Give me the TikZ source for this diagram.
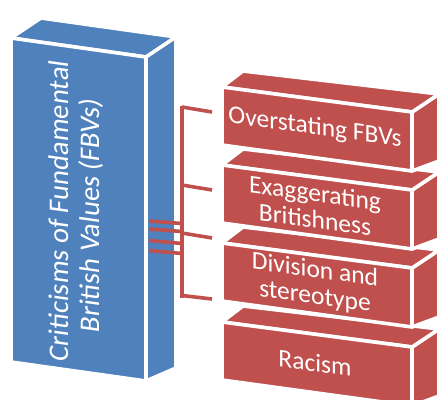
\documentclass[tikz,border=0pt]{standalone}
\usepackage{fontspec}
\setmainfont{Carlito}
\definecolor{fbvblue}{HTML}{4F81BD}
\definecolor{fbvred}{HTML}{C0504D}
\tikzset{
  face/.style={draw=white, line width=3.6pt, line join=round},
  blueface/.style={face, fill=fbvblue},
  redface/.style={face, fill=fbvred},
  link/.style={draw=fbvred, line width=3.6pt},
  boxtext/.style={text=white, align=center, inner sep=0pt,
    font=\fontsize{25.5}{26.5}\selectfont},
  roottext/.style={text=white, align=center, inner sep=0pt,
    font=\fontsize{28.5}{30.5}\selectfont}
}
% one red box: #1 name, #2 y of the front top-left corner, #3 label
\newcommand\critbox[3]{%
  \coordinate (#1ftl) at (222,#2);
  \coordinate (#1ftr) at (412,#2+25);
  \coordinate (#1fbr) at (412,#2+84);
  \coordinate (#1fbl) at (222,#2+58);
  \fill[redface] (#1ftr) -- (439,#2+7) -- (439,#2+74) -- (#1fbr) -- cycle;
  \fill[redface] (#1ftl) -- (#1ftr) -- (439,#2+7) -- (243,#2-16) -- cycle;
  \fill[redface] (#1ftl) -- (#1ftr) -- (#1fbr) -- (#1fbl) -- cycle;
  \node[boxtext, yslant=-0.137] (#1) at (315,#2+41) {#3};
}
\begin{document}
\begin{tikzpicture}[x=1pt,y=-1pt]
\useasboundingbox (0,0) rectangle (439,399);
\clip (0,0) rectangle (439,399);

% parent block
\coordinate (rftl) at (11,38);
\coordinate (rftr) at (146,57);
\coordinate (rfbr) at (146,381);
\coordinate (rfbl) at (11,362);
\fill[blueface] (rftl) -- (rftr) -- (176,37) -- (41,18) -- cycle;
\fill[blueface] (rftr) -- (176,37) -- (176,368) -- (rfbr) -- cycle;
\fill[blueface] (rftl) -- (rftr) -- (rfbr) -- (rfbl) -- cycle;
\node[roottext, yslant=-0.14, rotate=90] (root) at (76,213)
  {Criticisms of Fundamental\\British Values (FBVs)};

% connector tree
\coordinate (trunktop) at (182,105.5);
\coordinate (trunkbot) at (182,297.5);
\foreach \i/\ya/\yb in {1/221/223.5, 2/229/231.5, 3/240.5/243.5, 4/250.5/253.5}{
  \coordinate (src\i) at (149,\ya);
  \coordinate (jn\i) at (182,\yb);
}
\foreach \i/\ya/\yb in {1/107/112, 2/185/190, 3/233/238, 4/295.5/299}{
  \coordinate (br\i) at (182,\ya);
  \coordinate (tip\i) at (212,\yb);
}
\draw[link] (trunktop) -- (trunkbot);
\foreach \i in {1,...,4}{
  \draw[link] (src\i) -- (jn\i);
  \draw[link] (br\i) -- (tip\i);
}

% child blocks, lowest first
\critbox{racism}{322}{Racism}
\critbox{division}{243}{Division and\\stereotype}
\critbox{exagg}{165}{Exaggerating\\Britishness}
\critbox{overst}{87}{Overstating FBVs}
\end{tikzpicture}
\end{document}
